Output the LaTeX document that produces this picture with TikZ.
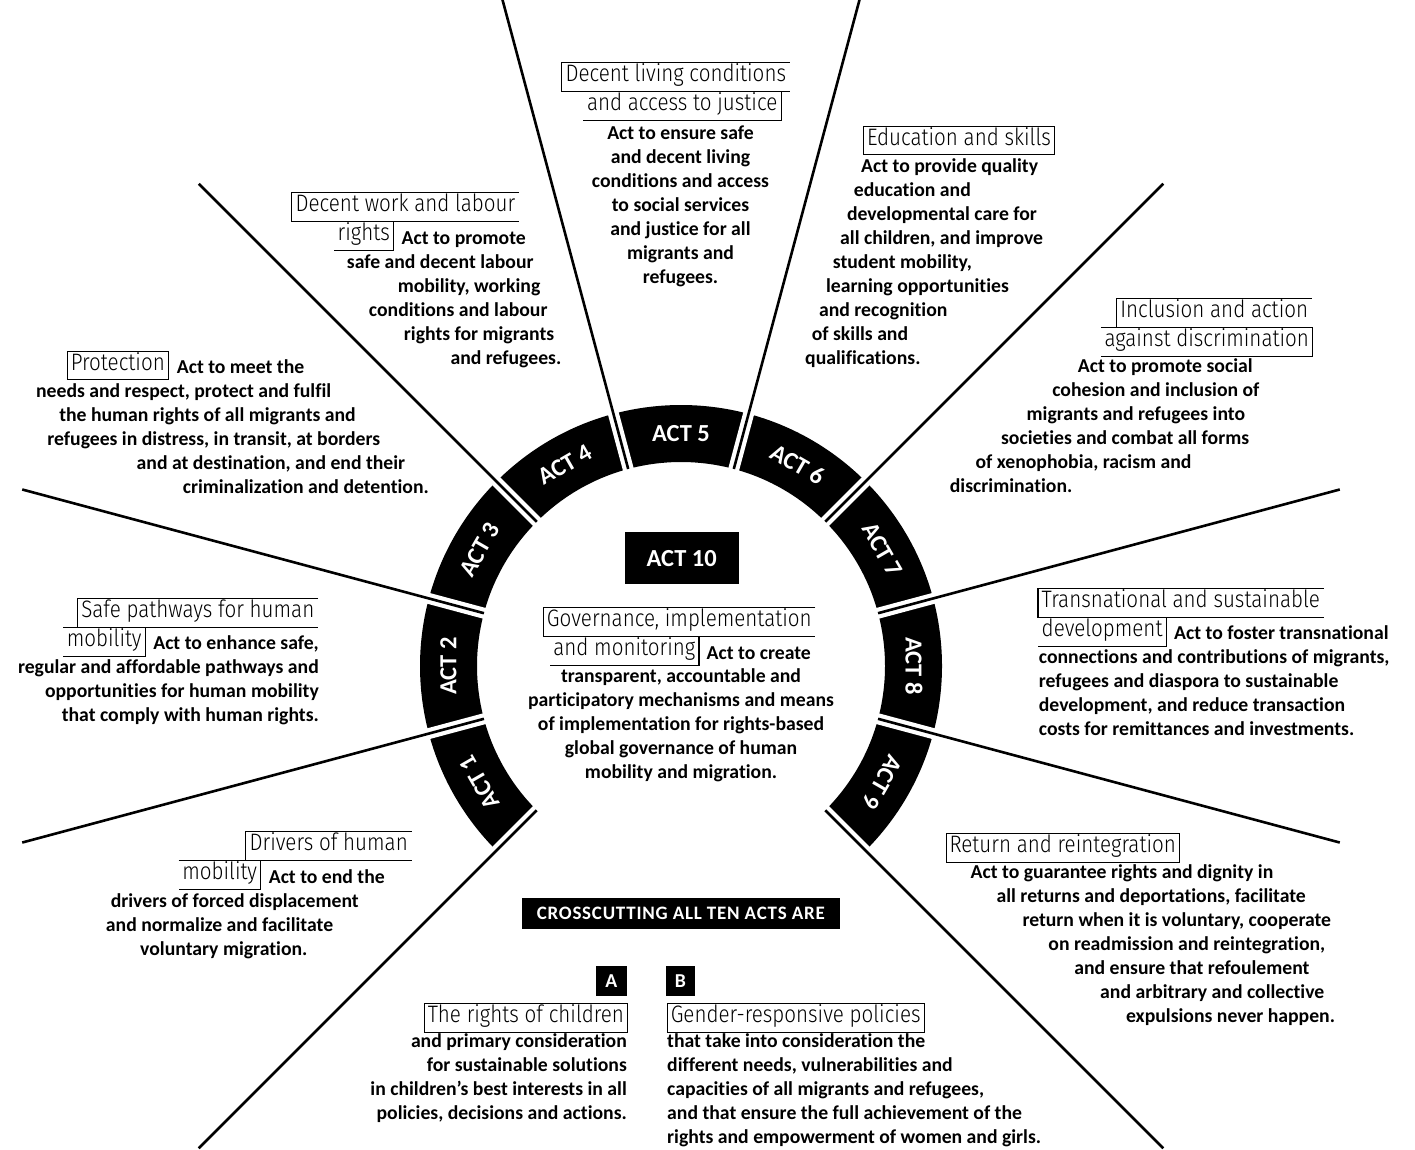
\documentclass[tikz,border=0pt]{standalone}
\usepackage{fontspec}
\setmainfont{Carlito}[Ligatures=NoCommon]
\newfontfamily\lightf{Fira Sans Light}[FakeStretch=0.865]
\usetikzlibrary{calc}
\newcommand\myBody{\fontsize{19.7}{24}\selectfont\bfseries}
\newcommand\myLbl{\lightf\fontsize{23.8}{29}\selectfont}
\newcommand\myAct{\fontsize{24.5}{28}\selectfont\bfseries}
\newcommand\myCross{\fontsize{19}{22}\selectfont\bfseries}
\tikzset{
  bt/.style={font=\myBody, inner sep=0pt},
  lb/.style={font=\myLbl, inner xsep=3.5pt, inner ysep=0pt, text height=19pt, text depth=9.8pt},
  lbox/.style={lb, draw, line width=1.1pt},
  fr/.style={line width=1.1pt},
  sepline/.style={line width=2.6pt, black},
  sepgap/.style={line width=11pt, white},
  actl/.style={font=\myAct, text=white, inner sep=0pt, text height=15.8pt, text depth=0pt},
  blk/.style={fill=black, text=white, inner sep=0pt}
}
\begin{document}
\begin{tikzpicture}[x=1pt,y=1pt]
\useasboundingbox (0,0) rectangle (1415,-1149);
\fill[white] (0,0) rectangle (1415,-1149);
\clip (0,0) rectangle (1415,-1149);
\coordinate (C) at (681,-666);
% ring
\fill[black] ($(C)+(-45:261)$) arc[start angle=-45,end angle=225,radius=261]
  -- ($(C)+(225:204)$) arc[start angle=225,end angle=-45,radius=204] -- cycle;
\foreach \a in {-45,-15,...,225} \draw[sepgap] ($(C)+(\a:199)$) -- ($(C)+(\a:267)$);
\foreach \a/\L in {-45/682,-15/682,15/682,45/682,75/700,105/700,135/682,165/682,195/682,225/682}
  \draw[sepline] ($(C)+(\a:204)$) -- ($(C)+(\a:\L)$);
\foreach \n/\a in {1/210,2/180,3/150,4/120,5/90,6/60,7/30,8/0,9/-30}
  \node[actl, rotate=\a-90] (act\n) at ($(C)+(\a:232.5)$) {ACT \n};

% ACT 10 centre
\node[blk, font=\myAct, minimum width=113.6pt, minimum height=52pt] (act10) at (681.7,-558.3) {ACT 10};
\node[lb, anchor=north] (l10a) at (679.3,-607.7) {Governance, implementation};
\draw[fr] (l10a.north east) -- (l10a.north west) -- (l10a.south west) -- (l10a.south east);
\node[lb, anchor=north east] (l10b) at (699,-636.5) {and monitoring};
\draw[fr] (l10b.north west) -- (l10b.north east) -- (l10b.south east) -- (l10b.south west);
\node[bt, anchor=base west] (t10a) at ($(l10b.north east)+(7.5,-22.5)$) {Act to create};
\node[bt, anchor=base] (t10b) at (681,-682.5) {transparent, accountable and};
\node[bt, anchor=base] (t10c) at (681,-706.5) {participatory mechanisms and means};
\node[bt, anchor=base] (t10d) at (681,-730.5) {of implementation for rights-based};
\node[bt, anchor=base] (t10e) at (681,-754.5) {global governance of human};
\node[bt, anchor=base] (t10f) at (681,-778.5) {mobility and migration.};

% ACT 5
\node[lb, anchor=north] (l5a) at (675.8,-62.7) {Decent living conditions};
\draw[fr] (l5a.north east) -- (l5a.north west) -- (l5a.south west) -- (l5a.south east);
\node[lb, anchor=north] (l5b) at (682.2,-91.5) {and access to justice};
\draw[fr] (l5b.north west) -- (l5b.north east) -- (l5b.south east) -- (l5b.south west);
\node[bt, anchor=base] (t5a) at (680.5,-139) {Act to ensure safe};
\node[bt, anchor=base] (t5b) at (680.5,-163) {and decent living};
\node[bt, anchor=base] (t5c) at (680.5,-187) {conditions and access};
\node[bt, anchor=base] (t5d) at (680.5,-211) {to social services};
\node[bt, anchor=base] (t5e) at (680.5,-235) {and justice for all};
\node[bt, anchor=base] (t5f) at (680.5,-259) {migrants and};
\node[bt, anchor=base] (t5g) at (680.5,-283) {refugees.};

% ACT 6
\node[lbox, anchor=north west] (l6) at (863,-125.5) {Education and skills};
\node[bt, anchor=base west] (t6a) at (861,-172) {Act to provide quality};
\node[bt, anchor=base west] (t6b) at (853.7,-196) {education and};
\node[bt, anchor=base west] (t6c) at (846.8,-220) {developmental care for};
\node[bt, anchor=base west] (t6d) at (840,-244) {all children, and improve};
\node[bt, anchor=base west] (t6e) at (832.7,-268) {student mobility,};
\node[bt, anchor=base west] (t6f) at (825.8,-292) {learning opportunities};
\node[bt, anchor=base west] (t6g) at (818.9,-316) {and recognition};
\node[bt, anchor=base west] (t6h) at (811.6,-340) {of skills and};
\node[bt, anchor=base west] (t6i) at (805,-364) {qualifications.};

% ACT 7
\node[lb, anchor=north east] (l7a) at (1311.8,-298.3) {Inclusion and action};
\draw[fr] (l7a.north east) -- (l7a.north west) -- (l7a.south west) -- (l7a.south east);
\node[lb, anchor=north east] (l7b) at (1312.6,-327.1) {against discrimination};
\draw[fr] (l7b.north west) -- (l7b.north east) -- (l7b.south east) -- (l7b.south west);
\node[bt, anchor=base west] (t7a) at (1077.7,-372) {Act to promote social};
\node[bt, anchor=base west] (t7b) at (1052.1,-396) {cohesion and inclusion of};
\node[bt, anchor=base west] (t7c) at (1026.5,-420) {migrants and refugees into};
\node[bt, anchor=base west] (t7d) at (1000.9,-444) {societies and combat all forms};
\node[bt, anchor=base west] (t7e) at (975.3,-468) {of xenophobia, racism and};
\node[bt, anchor=base west] (t7f) at (949.7,-492) {discrimination.};

% ACT 8
\node[lb, anchor=north west] (l8a) at (1038,-588.3) {Transnational and sustainable};
\draw[fr] (l8a.north east) -- (l8a.north west) -- (l8a.south west) -- (l8a.south east);
\node[lb, anchor=north west] (l8b) at (1038,-617.1) {development};
\draw[fr] (l8b.north west) -- (l8b.north east) -- (l8b.south east) -- (l8b.south west);
\node[bt, anchor=base west] (t8a) at ($(l8b.north east)+(7.8,-22.5)$) {Act to foster transnational};
\node[bt, anchor=base west] (t8b) at (1038.7,-663.5) {connections and contributions of migrants,};
\node[bt, anchor=base west] (t8c) at (1038.7,-687.5) {refugees and diaspora to sustainable};
\node[bt, anchor=base west] (t8d) at (1038.7,-711.5) {development, and reduce transaction};
\node[bt, anchor=base west] (t8e) at (1038.7,-735.5) {costs for remittances and investments.};

% ACT 9
\node[lbox, anchor=north west] (l9) at (945.5,-832.7) {Return and reintegration};
\node[bt, anchor=base west] (t9a) at (970.5,-878) {Act to guarantee rights and dignity in};
\node[bt, anchor=base west] (t9b) at (996.4,-902) {all returns and deportations, facilitate};
\node[bt, anchor=base west] (t9c) at (1022.3,-926) {return when it is voluntary, cooperate};
\node[bt, anchor=base west] (t9d) at (1048.2,-950) {on readmission and reintegration,};
\node[bt, anchor=base west] (t9e) at (1074.1,-974) {and ensure that refoulement};
\node[bt, anchor=base west] (t9f) at (1100,-998) {and arbitrary and collective};
\node[bt, anchor=base west] (t9g) at (1125.9,-1022) {expulsions never happen.};

% ACT 4
\node[lb, anchor=north east] (l4a) at (519,-192.7) {Decent work and labour};
\draw[fr] (l4a.north east) -- (l4a.north west) -- (l4a.south west) -- (l4a.south east);
\node[bt, anchor=base east] (t4a) at (526,-244) {Act to promote};
\node[lb, anchor=north east] (l4b) at ($(t4a.base west)+(-7.8,22.5)$) {rights};
\draw[fr] (l4b.north west) -- (l4b.north east) -- (l4b.south east) -- (l4b.south west);
\node[bt, anchor=base east] (t4b) at (533.8,-268) {safe and decent labour};
\node[bt, anchor=base east] (t4c) at (540.5,-292) {mobility, working};
\node[bt, anchor=base east] (t4d) at (547.6,-316) {conditions and labour};
\node[bt, anchor=base east] (t4e) at (554.4,-340) {rights for migrants};
\node[bt, anchor=base east] (t4f) at (561.5,-364) {and refugees.};

% ACT 3
\node[bt, anchor=base east] (t3a) at (304.5,-373) {Act to meet the};
\node[lbox, anchor=north east] (l3) at ($(t3a.base west)+(-7.8,22.5)$) {Protection};
\node[bt, anchor=base east] (t3b) at (331.4,-397) {needs and respect, protect and fulfil};
\node[bt, anchor=base east] (t3c) at (355.9,-421) {the human rights of all migrants and};
\node[bt, anchor=base east] (t3d) at (380.4,-445) {refugees in distress, in transit, at borders};
\node[bt, anchor=base east] (t3e) at (405.3,-469) {and at destination, and end their};
\node[bt, anchor=base east] (t3f) at (429,-493) {criminalization and detention.};

% ACT 2
\node[lb, anchor=north east] (l2a) at (318,-598.3) {Safe pathways for human};
\draw[fr] (l2a.north east) -- (l2a.north west) -- (l2a.south west) -- (l2a.south east);
\node[bt, anchor=base east] (t2a) at (319,-649.6) {Act to enhance safe,};
\node[lb, anchor=north east] (l2b) at ($(t2a.base west)+(-7.8,22.5)$) {mobility};
\draw[fr] (l2b.north west) -- (l2b.north east) -- (l2b.south east) -- (l2b.south west);
\node[bt, anchor=base east] (t2b) at (319,-673.5) {regular and affordable pathways and};
\node[bt, anchor=base east] (t2c) at (319,-697.5) {opportunities for human mobility};
\node[bt, anchor=base east] (t2d) at (319,-721.5) {that comply with human rights.};

% ACT 1
\node[lb, anchor=north east] (l1a) at (411.5,-831.7) {Drivers of human};
\draw[fr] (l1a.north east) -- (l1a.north west) -- (l1a.south west) -- (l1a.south east);
\node[bt, anchor=base east] (t1a) at (385,-883) {Act to end the};
\node[lb, anchor=north east] (l1b) at ($(t1a.base west)+(-7.8,22.5)$) {mobility};
\draw[fr] (l1b.north west) -- (l1b.north east) -- (l1b.south east) -- (l1b.south west);
\node[bt, anchor=base east] (t1b) at (359,-907.5) {drivers of forced displacement};
\node[bt, anchor=base east] (t1c) at (333.3,-931.5) {and normalize and facilitate};
\node[bt, anchor=base east] (t1d) at (307.6,-955.5) {voluntary migration.};

% crosscutting
\node[blk, font=\myCross, minimum width=317.6pt, minimum height=30.7pt] (cross) at (680.8,-913.6) {\addfontfeatures{LetterSpace=4}CROSSCUTTING ALL TEN ACTS ARE};
\node[blk, font=\myBody, minimum width=30.7pt, minimum height=29.7pt] (ba) at (611.4,-980.9) {A};
\node[blk, font=\myBody, minimum width=29.7pt, minimum height=29.7pt] (bb) at (680.4,-980.9) {B};

\node[lbox, anchor=north east] (la) at (628,-1003.3) {The rights of children};
\node[bt, anchor=base east] (ta1) at (627,-1047.5) {and primary consideration};
\node[bt, anchor=base east] (ta2) at (627,-1071.5) {for sustainable solutions};
\node[bt, anchor=base east] (ta3) at (627,-1095.5) {in children’s best interests in all};
\node[bt, anchor=base east] (ta4) at (627,-1119.5) {policies, decisions and actions.};

\node[lbox, anchor=north west] (lbb) at (666.7,-1003.3) {Gender-responsive policies};
\node[bt, anchor=base west] (tb1) at (667,-1047.5) {that take into consideration the};
\node[bt, anchor=base west] (tb2) at (667,-1071.5) {different needs, vulnerabilities and};
\node[bt, anchor=base west] (tb3) at (667,-1095.5) {capacities of all migrants and refugees,};
\node[bt, anchor=base west] (tb4) at (667,-1119.5) {and that ensure the full achievement of the};
\node[bt, anchor=base west] (tb5) at (667,-1143.5) {rights and empowerment of women and girls.};
\end{tikzpicture}
\end{document}
